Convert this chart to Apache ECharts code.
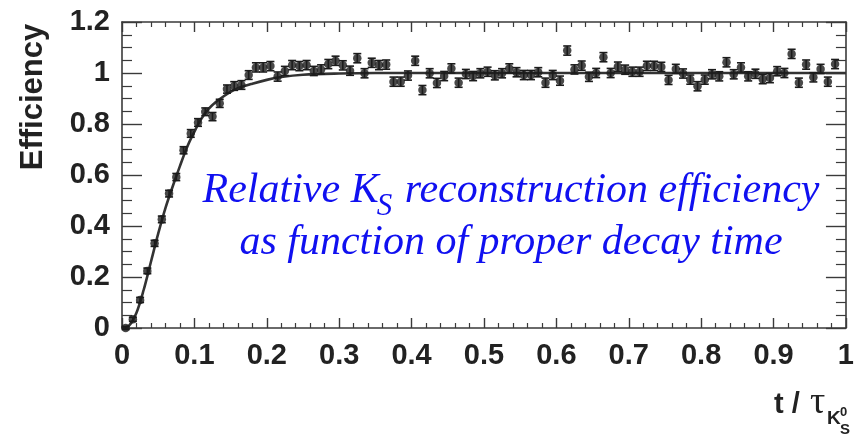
<!DOCTYPE html>
<html>
<head>
<meta charset="utf-8">
<script src="https://cdn.jsdelivr.net/npm/echarts@6/dist/echarts.min.js"></script>
<style>
  html, body { margin: 0; padding: 0; background: #fff; }
  #chart { width: 857px; height: 437px; }
</style>
</head>
<body>
<div id="chart"></div>
<script>
// Proper decay time bin centres (in units of the K0S lifetime)
const timeBins = [
  0.005, 0.015, 0.025, 0.035, 0.045, 0.055, 0.065, 0.075, 0.085, 0.095,
  0.105, 0.115, 0.125, 0.135, 0.145, 0.155, 0.165, 0.175, 0.185, 0.195,
  0.205, 0.215, 0.225, 0.235, 0.245, 0.255, 0.265, 0.275, 0.285, 0.295,
  0.305, 0.315, 0.325, 0.335, 0.345, 0.355, 0.365, 0.375, 0.385, 0.395,
  0.405, 0.415, 0.425, 0.435, 0.445, 0.455, 0.465, 0.475, 0.485, 0.495,
  0.505, 0.515, 0.525, 0.535, 0.545, 0.555, 0.565, 0.575, 0.585, 0.595,
  0.605, 0.615, 0.625, 0.635, 0.645, 0.655, 0.665, 0.675, 0.685, 0.695,
  0.705, 0.715, 0.725, 0.735, 0.745, 0.755, 0.765, 0.775, 0.785, 0.795,
  0.805, 0.815, 0.825, 0.835, 0.845, 0.855, 0.865, 0.875, 0.885, 0.895,
  0.905, 0.915, 0.925, 0.935, 0.945, 0.955, 0.965, 0.975, 0.985
];

// Measured relative reconstruction efficiency per bin
const efficiency = [
  0.000, 0.034, 0.110, 0.224, 0.332, 0.426, 0.527, 0.592, 0.697, 0.763,
  0.806, 0.848, 0.829, 0.881, 0.937, 0.949, 0.953, 0.992, 1.022, 1.022,
  1.027, 0.986, 1.008, 1.031, 1.027, 1.031, 1.008, 1.014, 1.035, 1.048,
  1.030, 1.009, 1.058, 0.999, 1.040, 1.031, 1.033, 0.966, 0.966, 0.990,
  1.048, 0.933, 0.999, 0.961, 0.988, 1.018, 0.962, 0.996, 0.988, 0.999,
  1.005, 0.991, 0.999, 1.018, 1.003, 0.992, 0.992, 1.003, 0.962, 0.992,
  0.970, 1.088, 1.014, 1.029, 0.985, 1.000, 1.062, 1.000, 1.025, 1.013,
  1.005, 1.005, 1.028, 1.028, 1.024, 0.973, 1.016, 0.998, 0.974, 0.948,
  0.974, 0.995, 0.987, 1.042, 0.995, 1.022, 0.987, 0.997, 0.976, 0.980,
  1.007, 1.000, 1.075, 0.962, 1.033, 0.983, 1.016, 0.966, 1.035
];

// Statistical uncertainty per bin
const uncertainty = [
  0.006, 0.008, 0.010, 0.011, 0.012, 0.013, 0.013, 0.014, 0.014, 0.015,
  0.015, 0.015, 0.016, 0.016, 0.016, 0.017, 0.017, 0.017, 0.018, 0.018,
  0.018, 0.018, 0.018, 0.018, 0.018, 0.018, 0.018, 0.018, 0.018, 0.018,
  0.018, 0.018, 0.018, 0.018, 0.018, 0.018, 0.018, 0.018, 0.018, 0.018,
  0.018, 0.018, 0.018, 0.018, 0.018, 0.018, 0.018, 0.018, 0.018, 0.018,
  0.018, 0.018, 0.018, 0.018, 0.018, 0.018, 0.018, 0.018, 0.018, 0.018,
  0.018, 0.018, 0.018, 0.018, 0.018, 0.018, 0.018, 0.018, 0.018, 0.018,
  0.018, 0.018, 0.018, 0.018, 0.018, 0.018, 0.018, 0.018, 0.018, 0.018,
  0.018, 0.018, 0.018, 0.018, 0.018, 0.018, 0.018, 0.018, 0.018, 0.018,
  0.018, 0.018, 0.018, 0.018, 0.018, 0.018, 0.018, 0.018, 0.018
];

// Fitted efficiency curve, sampled along t
const fitTime = [0.000, 0.010, 0.020, 0.030, 0.040, 0.050, 0.060, 0.070, 0.080, 0.090,
                 0.100, 0.110, 0.120, 0.130, 0.140, 0.150, 0.160, 0.180, 0.200, 0.220,
                 0.250, 0.300, 0.350, 0.400, 0.600, 0.800, 1.000];
const fitEff  = [0.000, 0.010, 0.060, 0.150, 0.260, 0.370, 0.470, 0.555, 0.635, 0.710,
                 0.770, 0.822, 0.860, 0.887, 0.908, 0.926, 0.940, 0.958, 0.973, 0.984,
                 0.993, 0.998, 1.000, 1.000, 1.000, 1.000, 1.000];

// Axis tick labels
const xTicks = ['0', '0.1', '0.2', '0.3', '0.4', '0.5', '0.6', '0.7', '0.8', '0.9', '1'];
const yTicks = ['0', '0.2', '0.4', '0.6', '0.8', '1', '1.2'];

const axisColor = '#3a3a3a';
const inkColor = '#1c1c1c';
const textColor = '#222';
const labelFont = { fontFamily: 'Liberation Sans', fontWeight: 'bold', fontSize: 29, color: textColor };

const points = timeBins.map((t, i) => [t, efficiency[i], uncertainty[i]]);
const fitLine = fitTime.map((t, i) => [t, fitEff[i]]);

function xAxisDef(pos, showLabel) {
  return {
    type: 'value', position: pos, min: 0, max: 1, interval: 0.1,
    axisLine: { show: true, onZero: false, lineStyle: { color: axisColor, width: 1.6 } },
    axisTick: { show: true, inside: true, length: 10, lineStyle: { color: axisColor, width: 1.4 } },
    minorTick: { show: true, splitNumber: 5, length: 5, lineStyle: { color: axisColor, width: 1.2 } },
    splitLine: { show: false }, minorSplitLine: { show: false },
    axisLabel: Object.assign({
      show: showLabel, margin: 13,
      formatter: v => xTicks[Math.round(v * 10)]
    }, labelFont)
  };
}
function yAxisDef(pos, showLabel) {
  return {
    type: 'value', position: pos, min: 0, max: 1.2, interval: 0.2,
    axisLine: { show: true, onZero: false, lineStyle: { color: axisColor, width: 1.6 } },
    axisTick: { show: true, inside: true, length: 20, lineStyle: { color: axisColor, width: 1.4 } },
    minorTick: { show: true, splitNumber: 4, length: 10, lineStyle: { color: axisColor, width: 1.2 } },
    splitLine: { show: false }, minorSplitLine: { show: false },
    axisLabel: Object.assign({
      show: showLabel, margin: 12,
      formatter: v => yTicks[Math.round(v * 5)]
    }, labelFont)
  };
}

// Text measurement for the annotation pieces
const measureCtx = document.createElement('canvas').getContext('2d');
function textWidth(str, font) { measureCtx.font = font; return measureCtx.measureText(str).width; }

// Place a text piece by its alphabetic baseline
function textAt(str, x, baseline, font, size, fill, align) {
  return {
    type: 'text', x: x, y: baseline - 0.34 * size, z: 50,
    style: { text: str, font: font, fill: fill, align: align || 'left', verticalAlign: 'middle' }
  };
}

const noteColor = '#1010f0';
const noteFont = 'italic 42px "Liberation Serif"';
const noteSubFont = 'italic 31px "Liberation Serif"';
const line1a = 'Relative K', line1s = 'S', line1b = ' reconstruction efficiency';
const line2 = 'as function of proper decay time';
const noteCenter = 511;
const wA = textWidth(line1a, noteFont), wS = textWidth(line1s, noteSubFont), wB = textWidth(line1b, noteFont);
const line1Start = noteCenter - (wA + wS + wB) / 2;
const base1 = 205, base2 = 257;

const chart = echarts.init(document.getElementById('chart'), null, { renderer: 'canvas' });
chart.setOption({
  animation: false,
  backgroundColor: '#fff',
  grid: { left: 122, right: 8, top: 22, bottom: 109, containLabel: false },
  xAxis: [xAxisDef('bottom', true), xAxisDef('top', false)],
  yAxis: [yAxisDef('left', true), yAxisDef('right', false)],
  series: [
    {
      type: 'line', name: 'fit', data: fitLine, smooth: 0.35, showSymbol: false,
      lineStyle: { color: '#333', width: 2.6 }, z: 2, clip: true
    },
    {
      type: 'custom', name: 'errors', data: points, z: 3, clip: false,
      encode: { x: 0, y: 1 },
      renderItem: function (params, api) {
        const x = api.value(0), y = api.value(1), e = api.value(2);
        const hi = api.coord([x, y + e]);
        const lo = api.coord([x, y - e]);
        const w = 4;
        const st = { stroke: inkColor, lineWidth: 1.6 };
        return {
          type: 'group',
          children: [
            { type: 'line', shape: { x1: hi[0], y1: hi[1], x2: lo[0], y2: lo[1] }, style: st },
            { type: 'line', shape: { x1: hi[0] - w, y1: hi[1], x2: hi[0] + w, y2: hi[1] }, style: st },
            { type: 'line', shape: { x1: lo[0] - w, y1: lo[1], x2: lo[0] + w, y2: lo[1] }, style: st }
          ]
        };
      }
    },
    {
      type: 'scatter', name: 'efficiency', data: points, symbol: 'circle', symbolSize: 8.5,
      itemStyle: { color: inkColor }, z: 4, clip: false, encode: { x: 0, y: 1 }
    }
  ],
  graphic: [
    {
      type: 'text', x: 33, y: 97, rotation: Math.PI / 2, z: 50,
      style: { text: 'Efficiency', font: 'bold 31px "Liberation Sans"', fill: textColor, align: 'center', verticalAlign: 'middle' }
    },
    // axis title: t / tau with K0S sub/superscripts
    textAt('t /', 774, 415, 'bold 29px "Liberation Sans"', 29, textColor),
    textAt('\u03c4', 810, 416, '38px "Liberation Serif"', 38, textColor),
    textAt('K', 827, 425, 'bold 19px "Liberation Sans"', 19, textColor),
    textAt('0', 840, 417, 'bold 13px "Liberation Sans"', 13, textColor),
    textAt('S', 840, 435, 'bold 15px "Liberation Sans"', 15, textColor),
    // annotation
    textAt(line1a, line1Start, base1, noteFont, 42, noteColor),
    textAt(line1s, line1Start + wA - 2, base1 + 12, noteSubFont, 31, noteColor),
    textAt(line1b, line1Start + wA + wS, base1, noteFont, 42, noteColor),
    textAt(line2, noteCenter - textWidth(line2, noteFont) / 2, base2, noteFont, 42, noteColor)
  ]
});
</script>
</body>
</html>
